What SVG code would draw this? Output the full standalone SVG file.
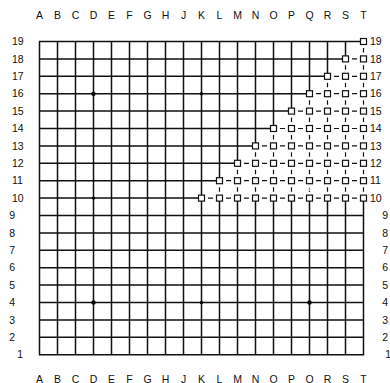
<svg xmlns="http://www.w3.org/2000/svg" xmlns:xlink="http://www.w3.org/1999/xlink" width="390" height="383" viewBox="0 0 390 383">
<style>
.grid{fill:none;stroke:#111;stroke-width:1.5;stroke-linecap:square}
.dash{fill:none;stroke:#111;stroke-width:1.2}
.dot{fill:none;stroke:#111;stroke-width:1.2;stroke-dasharray:1.2 1.1}
.sq{fill:#fff;stroke:#111;stroke-width:1.2}
.star{fill:#000}
.lbl{font-family:"Liberation Sans",Arial,sans-serif;font-size:10.5px;fill:#111}
.c{text-anchor:middle}
</style>
<defs>
<rect id="sq" class="sq" x="-3" y="-3" width="6" height="6"/>
</defs>
<rect width="390" height="383" fill="#fff"/>
<g id="board">
<path class="grid" d="M39.5 354.7H363.5M39.5 337.3H363.5M39.5 319.9H363.5M39.5 302.5H363.5M39.5 285.1H363.5M39.5 267.7H363.5M39.5 250.3H363.5M39.5 232.9H363.5M39.5 215.5H363.5
M39.5 198.1H201.5M39.5 180.7H219.5M39.5 163.3H237.5M39.5 145.9H255.5M39.5 128.5H273.5M39.5 111.1H291.5M39.5 93.7H309.5M39.5 76.3H327.5M39.5 58.9H345.5M39.5 41.5H363.5
M39.5 41.5V354.7M57.5 41.5V354.7M75.5 41.5V354.7M93.5 41.5V354.7M111.5 41.5V354.7M129.5 41.5V354.7M147.5 41.5V354.7M165.5 41.5V354.7M183.5 41.5V354.7M201.5 41.5V354.7
M219.5 198.1V354.7M237.5 198.1V354.7M255.5 198.1V354.7M273.5 198.1V354.7M291.5 198.1V354.7M309.5 198.1V354.7M327.5 198.1V354.7M345.5 198.1V354.7M363.5 198.1V354.7
M219.5 41.5V180.7M237.5 41.5V163.3M255.5 41.5V145.9M273.5 41.5V128.5M291.5 41.5V111.1M309.5 41.5V93.7M327.5 41.5V76.3M345.5 41.5V58.9"/>
<circle class="star" cx="93.5" cy="93.7" r="2.2"/>
<circle class="star" cx="93.5" cy="302.5" r="2.2"/>
<circle class="star" cx="309.5" cy="302.5" r="2.2"/>
<circle class="star" cx="201.5" cy="93.7" r="1.7"/>
<circle class="star" cx="201.5" cy="302.5" r="1.7"/>
<circle class="star" cx="93.5" cy="198.1" r="1.7"/>
</g>
<g id="connectors">
<path class="dash" d="
M208 198.1h5M226 198.1h5M244 198.1h5M262 198.1h5M280 198.1h5M298 198.1h5M316 198.1h5M334 198.1h5M352 198.1h5
M226 180.7h5M244 180.7h5M262 180.7h5M280 180.7h5M298 180.7h5M316 180.7h5M334 180.7h5M352 180.7h5
M244 163.3h5M262 163.3h5M280 163.3h5M298 163.3h5M316 163.3h5M334 163.3h5M352 163.3h5
M262 145.9h5M280 145.9h5M298 145.9h5M316 145.9h5M334 145.9h5M352 145.9h5
M280 128.5h5M298 128.5h5M316 128.5h5M334 128.5h5M352 128.5h5
M298 111.1h5M316 111.1h5M334 111.1h5M352 111.1h5
M316 93.7h5M334 93.7h5M352 93.7h5
M334 76.3h5M352 76.3h5
M352 58.9h5
M219.5 191.65v-4.5
M237.5 191.65v-4.5M237.5 174.25v-4.5
M255.5 191.65v-4.5M255.5 174.25v-4.5M255.5 156.85v-4.5
M273.5 191.65v-4.5M273.5 174.25v-4.5M273.5 156.85v-4.5M273.5 139.45v-4.5
M291.5 191.65v-4.5M291.5 174.25v-4.5M291.5 156.85v-4.5M291.5 139.45v-4.5M291.5 122.05v-4.5
M309.5 174.25v-4.5M309.5 156.85v-4.5M309.5 139.45v-4.5M309.5 122.05v-4.5M309.5 104.65v-4.5
M327.5 191.65v-4.5M327.5 174.25v-4.5M327.5 156.85v-4.5M327.5 139.45v-4.5M327.5 122.05v-4.5M327.5 104.65v-4.5M327.5 87.25v-4.5
M345.5 191.65v-4.5M345.5 174.25v-4.5M345.5 156.85v-4.5M345.5 139.45v-4.5M345.5 122.05v-4.5M345.5 104.65v-4.5M345.5 87.25v-4.5M345.5 69.85v-4.5
M363.5 191.65v-4.5M363.5 174.25v-4.5M363.5 156.85v-4.5M363.5 139.45v-4.5M363.5 122.05v-4.5M363.5 104.65v-4.5M363.5 87.25v-4.5M363.5 69.85v-4.5M363.5 52.45v-4.5"/>
<path class="dot" d="M309.5 191.9v-5"/>
</g>
<g id="T19"><use href="#sq" x="363.5" y="41.5"/></g>
<g id="S18"><use href="#sq" x="345.5" y="58.9"/></g>
<g id="T18"><use href="#sq" x="363.5" y="58.9"/></g>
<g id="R17"><use href="#sq" x="327.5" y="76.3"/></g>
<g id="S17"><use href="#sq" x="345.5" y="76.3"/></g>
<g id="T17"><use href="#sq" x="363.5" y="76.3"/></g>
<g id="Q16"><use href="#sq" x="309.5" y="93.7"/></g>
<g id="R16"><use href="#sq" x="327.5" y="93.7"/></g>
<g id="S16"><use href="#sq" x="345.5" y="93.7"/></g>
<g id="T16"><use href="#sq" x="363.5" y="93.7"/></g>
<g id="P15"><use href="#sq" x="291.5" y="111.1"/></g>
<g id="Q15"><use href="#sq" x="309.5" y="111.1"/></g>
<g id="R15"><use href="#sq" x="327.5" y="111.1"/></g>
<g id="S15"><use href="#sq" x="345.5" y="111.1"/></g>
<g id="T15"><use href="#sq" x="363.5" y="111.1"/></g>
<g id="O14"><use href="#sq" x="273.5" y="128.5"/></g>
<g id="P14"><use href="#sq" x="291.5" y="128.5"/></g>
<g id="Q14"><use href="#sq" x="309.5" y="128.5"/></g>
<g id="R14"><use href="#sq" x="327.5" y="128.5"/></g>
<g id="S14"><use href="#sq" x="345.5" y="128.5"/></g>
<g id="T14"><use href="#sq" x="363.5" y="128.5"/></g>
<g id="N13"><use href="#sq" x="255.5" y="145.9"/></g>
<g id="O13"><use href="#sq" x="273.5" y="145.9"/></g>
<g id="P13"><use href="#sq" x="291.5" y="145.9"/></g>
<g id="Q13"><use href="#sq" x="309.5" y="145.9"/></g>
<g id="R13"><use href="#sq" x="327.5" y="145.9"/></g>
<g id="S13"><use href="#sq" x="345.5" y="145.9"/></g>
<g id="T13"><use href="#sq" x="363.5" y="145.9"/></g>
<g id="M12"><use href="#sq" x="237.5" y="163.3"/></g>
<g id="N12"><use href="#sq" x="255.5" y="163.3"/></g>
<g id="O12"><use href="#sq" x="273.5" y="163.3"/></g>
<g id="P12"><use href="#sq" x="291.5" y="163.3"/></g>
<g id="Q12"><use href="#sq" x="309.5" y="163.3"/></g>
<g id="R12"><use href="#sq" x="327.5" y="163.3"/></g>
<g id="S12"><use href="#sq" x="345.5" y="163.3"/></g>
<g id="T12"><use href="#sq" x="363.5" y="163.3"/></g>
<g id="L11"><use href="#sq" x="219.5" y="180.7"/></g>
<g id="M11"><use href="#sq" x="237.5" y="180.7"/></g>
<g id="N11"><use href="#sq" x="255.5" y="180.7"/></g>
<g id="O11"><use href="#sq" x="273.5" y="180.7"/></g>
<g id="P11"><use href="#sq" x="291.5" y="180.7"/></g>
<g id="Q11"><use href="#sq" x="309.5" y="180.7"/></g>
<g id="R11"><use href="#sq" x="327.5" y="180.7"/></g>
<g id="S11"><use href="#sq" x="345.5" y="180.7"/></g>
<g id="T11"><use href="#sq" x="363.5" y="180.7"/></g>
<g id="K10"><use href="#sq" x="201.5" y="198.1"/></g>
<g id="L10"><use href="#sq" x="219.5" y="198.1"/></g>
<g id="M10"><use href="#sq" x="237.5" y="198.1"/></g>
<g id="N10"><use href="#sq" x="255.5" y="198.1"/></g>
<g id="O10"><use href="#sq" x="273.5" y="198.1"/></g>
<g id="P10"><use href="#sq" x="291.5" y="198.1"/></g>
<g id="Q10"><use href="#sq" x="309.5" y="198.1"/></g>
<g id="R10"><use href="#sq" x="327.5" y="198.1"/></g>
<g id="S10"><use href="#sq" x="345.5" y="198.1"/></g>
<g id="T10"><use href="#sq" x="363.5" y="198.1"/></g>
<g id="labels" class="lbl">
<g class="c">
<text x="39.5" y="19.3">A</text><text x="57.5" y="19.3">B</text><text x="75.5" y="19.3">C</text><text x="93.5" y="19.3">D</text><text x="111.5" y="19.3">E</text><text x="129.5" y="19.3">F</text><text x="147.5" y="19.3">G</text><text x="165.5" y="19.3">H</text><text x="183.5" y="19.3">J</text><text x="201.5" y="19.3">K</text><text x="219.5" y="19.3">L</text><text x="237.5" y="19.3">M</text><text x="255.5" y="19.3">N</text><text x="273.5" y="19.3">O</text><text x="291.5" y="19.3">P</text><text x="309.5" y="19.3">Q</text><text x="327.5" y="19.3">R</text><text x="345.5" y="19.3">S</text><text x="363.5" y="19.3">T</text>
<text x="39.5" y="382.5">A</text><text x="57.5" y="382.5">B</text><text x="75.5" y="382.5">C</text><text x="93.5" y="382.5">D</text><text x="111.5" y="382.5">E</text><text x="129.5" y="382.5">F</text><text x="147.5" y="382.5">G</text><text x="165.5" y="382.5">H</text><text x="183.5" y="382.5">J</text><text x="201.5" y="382.5">K</text><text x="219.5" y="382.5">L</text><text x="237.5" y="382.5">M</text><text x="255.5" y="382.5">N</text><text x="273.5" y="382.5">O</text><text x="291.5" y="382.5">P</text><text x="309.5" y="382.5">Q</text><text x="327.5" y="382.5">R</text><text x="345.5" y="382.5">S</text><text x="363.5" y="382.5">T</text>
</g>
<text x="12" y="45.2">19</text><text x="12" y="62.6">18</text><text x="12" y="80">17</text><text x="12" y="97.4">16</text><text x="12" y="114.8">15</text><text x="12" y="132.2">14</text><text x="12" y="149.6">13</text><text x="12" y="167">12</text><text x="12" y="184.4">11</text><text x="12" y="201.8">10</text>
<text x="9.3" y="219.2">9</text><text x="9.3" y="236.6">8</text><text x="9.3" y="254">7</text><text x="9.3" y="271.4">6</text><text x="9.3" y="288.8">5</text><text x="9.3" y="306.2">4</text><text x="9.3" y="323.6">3</text><text x="9.3" y="341">2</text><text x="17.3" y="358.4">1</text>
<text x="370" y="45.2">19</text><text x="370" y="62.6">18</text><text x="370" y="80">17</text><text x="370" y="97.4">16</text><text x="370" y="114.8">15</text><text x="370" y="132.2">14</text><text x="370" y="149.6">13</text><text x="370" y="167">12</text><text x="370" y="184.4">11</text><text x="370" y="201.8">10</text>
<text x="382.3" y="219.2">9</text><text x="382.3" y="236.6">8</text><text x="382.3" y="254">7</text><text x="382.3" y="271.4">6</text><text x="382.3" y="288.8">5</text><text x="382.3" y="306.2">4</text><text x="382.3" y="323.6">3</text><text x="382.3" y="341">2</text><text x="385.3" y="358.4">1</text>
</g>
</svg>
